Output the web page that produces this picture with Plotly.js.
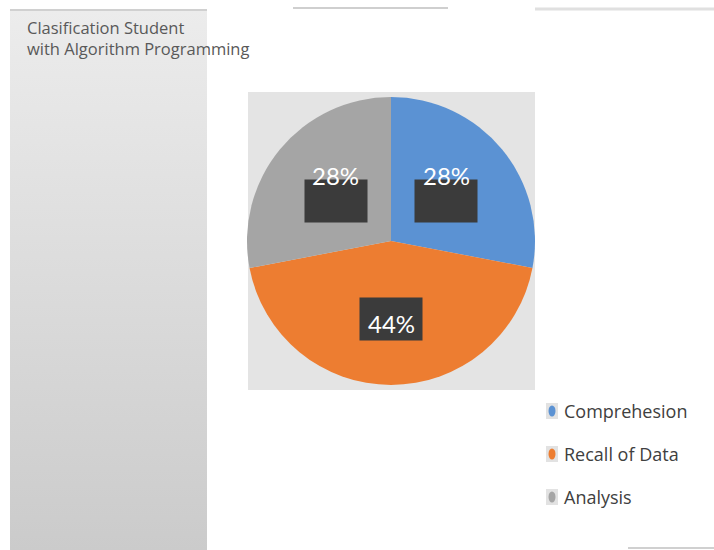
<!DOCTYPE html>
<html><head><meta charset="utf-8">
<script src="https://cdn.plot.ly/plotly-3.0.1.min.js"></script>
<style>html,body{margin:0;padding:0;background:#fff}#chart{width:714px;height:550px}</style>
</head><body><div id="chart"></div>
<script>
const categories = ["Comprehesion", "Recall of Data", "Analysis"];
const values = [28, 44, 28];
const colors = ["#5b92d3", "#ed7d31", "#a5a5a5"];
const titleText = "Clasification Student<br>with Algorithm Programming";

const W = 714, H = 550;
const cx = 391, cy = 241, r = 144;
const px = v => v / W, py = v => 1 - v / H;

const total = values.reduce((a, b) => a + b, 0);
let cum = 0;
const annotations = [];
const shapes = [
  {type: 'rect', xref: 'paper', yref: 'paper', x0: px(248), x1: px(535), y0: py(390), y1: py(92),
   fillcolor: '#e4e4e4', line: {width: 0}, layer: 'below'},
  {type: 'line', xref: 'paper', yref: 'paper', x0: px(10), x1: px(207), y0: py(10), y1: py(10), line: {color: '#d0d0d0', width: 2}},
  {type: 'line', xref: 'paper', yref: 'paper', x0: px(293), x1: px(448), y0: py(8), y1: py(8), line: {color: '#cfcfcf', width: 2}},
  {type: 'line', xref: 'paper', yref: 'paper', x0: px(535), x1: px(714), y0: py(9), y1: py(9), line: {color: '#e0e0e0', width: 3}},
  {type: 'line', xref: 'paper', yref: 'paper', x0: px(628), x1: px(714), y0: py(548), y1: py(548), line: {color: '#d0d0d0', width: 2}}
];

values.forEach((v, i) => {
  const mid = (cum + v / 2) / total * 2 * Math.PI;
  cum += v;
  const bx = cx + 0.5 * r * Math.sin(mid);
  const by = cy - 0.5 * r * Math.cos(mid) + 6;
  const upper = Math.cos(mid) > 0;
  annotations.push({xref: 'paper', yref: 'paper', x: px(bx), y: py(by), text: '&nbsp;', showarrow: false,
    width: 60, height: 40, borderpad: 1, bgcolor: '#3b3b3b', xanchor: 'center', yanchor: 'middle'});
  annotations.push({xref: 'paper', yref: 'paper', x: px(bx), y: py(by), text: Math.round(v / total * 100) + '%', showarrow: false,
    font: {family: 'Lato, sans-serif', size: 24, color: '#ffffff'}, xanchor: 'center', yanchor: 'middle',
    yshift: upper ? 26 : -4});
});

// legend drawn from the category list
categories.forEach((c, i) => {
  const ly = 411 + 43 * i;
  shapes.push({type: 'rect', xref: 'paper', yref: 'paper', x0: px(546), x1: px(558), y0: py(ly + 8), y1: py(ly - 8),
    fillcolor: '#e2e2e2', line: {width: 0}});
  shapes.push({type: 'circle', xref: 'paper', yref: 'paper', x0: px(548.5), x1: px(555.5), y0: py(ly + 5.5), y1: py(ly - 5.5),
    fillcolor: colors[i], line: {width: 0}});
  annotations.push({xref: 'paper', yref: 'paper', x: px(562), y: py(ly), text: c, showarrow: false,
    xanchor: 'left', yanchor: 'middle', font: {family: 'Open Sans, sans-serif', size: 18, color: '#404040'}});
});

const data = [
  {type: 'scatter', x: [10, 207, 207, 10, 10], y: [0, 0, 540, 540, 0], mode: 'lines', line: {width: 0},
   fill: 'toself', fillgradient: {type: 'vertical', colorscale: [[0, '#cbcbcb'], [1, '#ececec']]},
   hoverinfo: 'skip', showlegend: false, xaxis: 'x', yaxis: 'y'},
  {type: 'pie', labels: categories, values: values, marker: {colors: colors}, sort: false,
   direction: 'clockwise', rotation: 0, textinfo: 'none', hoverinfo: 'label+percent', showlegend: false,
   domain: {x: [px(cx - r), px(cx + r)], y: [py(cy + r), py(cy - r)]}}
];

const layout = {
  width: W, height: H, margin: {l: 0, r: 0, t: 0, b: 0},
  paper_bgcolor: '#ffffff', plot_bgcolor: 'rgba(0,0,0,0)',
  xaxis: {range: [0, W], visible: false, fixedrange: true, domain: [0, 1]},
  yaxis: {range: [0, H], visible: false, fixedrange: true, domain: [0, 1]},
  title: {text: titleText, x: px(27), xanchor: 'left', y: py(34), yanchor: 'top',
    font: {family: 'Open Sans, sans-serif', size: 16.5, color: '#595959'}},
  shapes: shapes,
  annotations: annotations,
  showlegend: false
};

Plotly.newPlot('chart', data, layout, {displayModeBar: false, staticPlot: true});
</script></body></html>
